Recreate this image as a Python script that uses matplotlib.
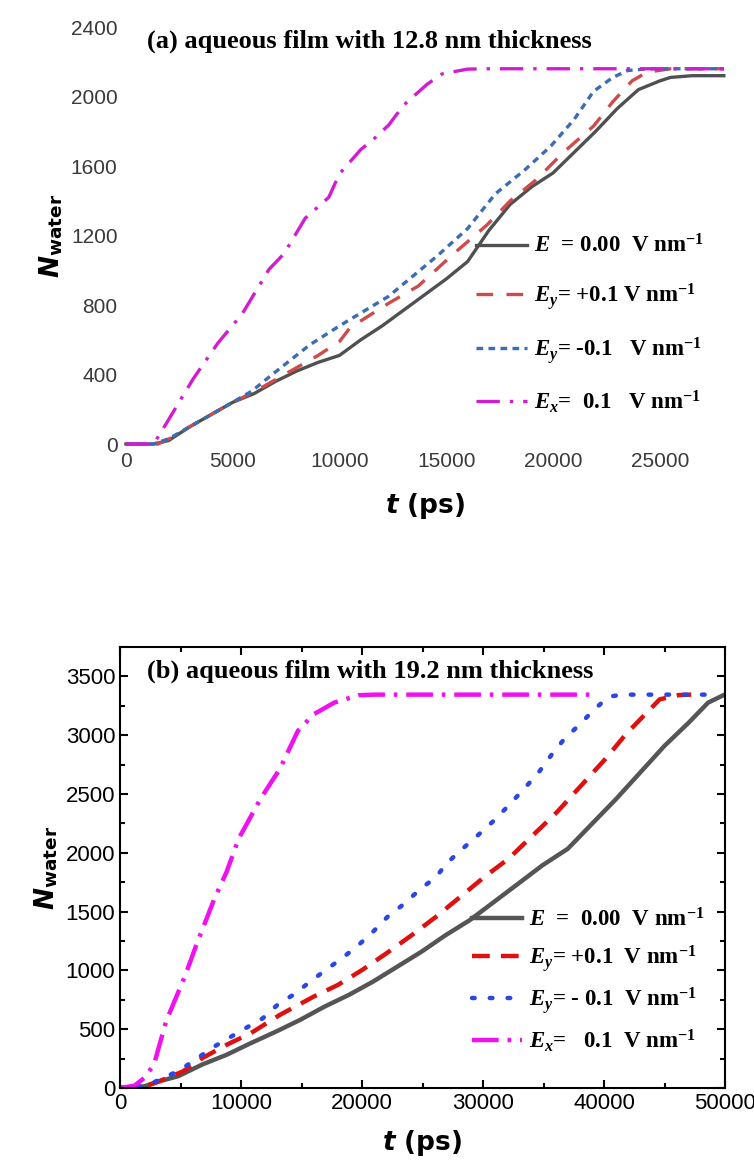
import matplotlib
matplotlib.use('Agg')
import matplotlib.pyplot as plt
import numpy as np

plt.rcParams['mathtext.fontset'] = 'custom'
plt.rcParams['mathtext.rm'] = 'Liberation Serif:bold'
plt.rcParams['mathtext.it'] = 'Liberation Serif:italic:bold'
plt.rcParams['mathtext.bf'] = 'Liberation Serif:bold'
plt.rcParams['mathtext.sf'] = 'DejaVu Sans:bold'
plt.rcParams['mathtext.bfit'] = 'DejaVu Sans:italic:bold'

TICKFONT = ['Liberation Sans Narrow', 'Liberation Sans', 'DejaVu Sans']
SERIF = ['Liberation Serif', 'DejaVu Serif']

# ---- panel (a): 12.8 nm film ----
a_t_E0 = [0, 1300, 2000, 3000, 4000, 5000, 6000, 7000, 8000, 9000, 10000, 11000, 12000,
          13000, 14000, 15000, 16000, 17000, 18000, 19000, 20000, 21000, 22000, 23000,
          24000, 25000, 25500, 26500, 28000]
a_N_E0 = [0, 0, 20, 100, 170, 240, 290, 360, 420, 470, 510, 600, 680,
          770, 860, 950, 1050, 1230, 1380, 1480, 1560, 1680, 1800, 1930,
          2040, 2090, 2110, 2120, 2120]
a_t_Eyp = [0, 1500, 2200, 3000, 4000, 5000, 6000, 7000, 8000, 9000, 10000, 10500, 12300,
           13700, 15300, 16900, 18000, 19200, 20500, 21900, 22800, 23700, 24400, 25500, 28000]
a_N_Eyp = [0, 0, 40, 100, 170, 240, 300, 370, 440, 510, 590, 670, 810,
           910, 1090, 1260, 1400, 1520, 1680, 1830, 1970, 2090, 2140, 2160, 2160]
a_t_Eym = [0, 1300, 2000, 3000, 4000, 5000, 5900, 6800, 8600, 10000, 12300, 14600, 16000,
           17300, 18700, 19900, 21000, 21900, 22800, 23500, 24500, 28000]
a_N_Eym = [0, 0, 30, 100, 170, 240, 305, 395, 570, 680, 850, 1085, 1240,
           1440, 1580, 1715, 1870, 2030, 2110, 2150, 2160, 2160]
a_t_Ex = [0, 1300, 1900, 3150, 4300, 5450, 6700, 7400, 8400, 9500, 10000, 11000, 11600,
          12300, 13000, 14100, 14800, 16000, 17000, 28000]
a_N_Ex = [0, 0, 120, 375, 580, 750, 1005, 1095, 1300, 1420, 1555, 1695, 1755,
          1835, 1950, 2070, 2130, 2158, 2160, 2160]

# ---- panel (b): 19.2 nm film ----
b_t_E0 = [0, 2000, 3200, 4800, 6800, 8800, 10800, 12900, 14900, 16900, 18900, 20900, 22900,
          24900, 26900, 28900, 30900, 32900, 34900, 37000, 39000, 41000, 43000, 45000,
          47000, 48600, 50000]
b_N_E0 = [0, 14, 56, 100, 200, 282, 381, 480, 580, 692, 791, 904, 1031,
          1158, 1299, 1427, 1582, 1737, 1893, 2034, 2246, 2458, 2684, 2910,
          3107, 3277, 3347]
b_t_Eyp = [0, 2000, 3200, 5200, 6800, 8800, 10800, 13200, 16000, 18000, 20000, 22000, 24100,
           26100, 28100, 30100, 32100, 34100, 36100, 38100, 40100, 41800, 43400, 44600,
           46200, 47200]
b_N_Eyp = [0, 10, 56, 141, 254, 367, 466, 621, 777, 876, 1003, 1144, 1299,
           1455, 1624, 1794, 1949, 2147, 2345, 2571, 2797, 3008, 3178, 3305,
           3342, 3345]
b_t_Eym = [0, 2000, 3600, 5000, 6400, 7800, 9200, 10600, 11800, 13000, 14500, 15700, 17000,
           18500, 19700, 20900, 22100, 23500, 24700, 26100, 27100, 28300, 29700, 30900,
           32100, 33500, 34700, 35700, 36700, 38000, 39200, 40400, 41500, 48800]
b_N_Eym = [0, 14, 85, 155, 254, 353, 438, 522, 593, 706, 805, 904, 1003,
           1116, 1215, 1328, 1455, 1568, 1681, 1794, 1921, 2034, 2161, 2274,
           2401, 2556, 2698, 2839, 2966, 3093, 3220, 3328, 3345, 3345]
b_t_Ex = [0, 1200, 2000, 2800, 3800, 5400, 6400, 7800, 8800, 9800, 11600, 13200, 14700,
          16000, 17700, 19700, 21000, 39000]
b_N_Ex = [0, 20, 85, 198, 565, 960, 1243, 1610, 1836, 2119, 2458, 2712, 3037,
          3178, 3277, 3340, 3345, 3345]

a_labels = [r'$E$  = 0.00  V nm$^{-1}$', r'$E_y$= +0.1 V nm$^{-1}$',
            r'$E_y$= -0.1   V nm$^{-1}$', r'$E_x$=  0.1   V nm$^{-1}$']
b_labels = [r'$E$  =  0.00  V nm$^{-1}$', r'$E_y$= +0.1  V nm$^{-1}$',
            r'$E_y$= - 0.1  V nm$^{-1}$', r'$E_x$=   0.1  V nm$^{-1}$']

LEGFONT = {'family': SERIF, 'weight': 'bold', 'size': 16.5}

fig = plt.figure(figsize=(7.54, 11.66), dpi=100)

# panel (a)
ax = fig.add_axes([0.167, 0.6192, 0.793, 0.3576])
ax.plot(a_t_E0, a_N_E0, color='#505050', lw=2.4, label=a_labels[0], clip_on=False)
ax.plot(a_t_Eyp, a_N_Eyp, color='#cf4a4a', lw=2.4, dashes=(5, 4), label=a_labels[1], clip_on=False)
ax.plot(a_t_Eym, a_N_Eym, color='#3c6cb4', lw=2.4, dashes=(2, 1.6), label=a_labels[2], clip_on=False)
ax.plot(a_t_Ex, a_N_Ex, color='#d21cd2', lw=2.4, dashes=(7, 3, 1, 3), label=a_labels[3], clip_on=False)
ax.set_xlim(0, 28000)
ax.set_ylim(0, 2400)
ax.set_xticks([0, 5000, 10000, 15000, 20000, 25000])
ax.set_yticks(np.arange(0, 2401, 400))
for s in ax.spines.values():
    s.set_visible(False)
ax.tick_params(length=0, labelsize=15, pad=6)
for lab in ax.get_xticklabels() + ax.get_yticklabels():
    lab.set_family(TICKFONT)
    lab.set_color('#3a3a3a')
ax.set_xlabel(r'$\mathbfit{t}$ (ps)', fontsize=19, fontweight='bold', family='DejaVu Sans', labelpad=14)
ax.set_ylabel(r'$\mathbfit{N}_{\mathsf{water}}$', fontsize=19)
ax.text(0.035, 0.965, '(a) aqueous film with 12.8 nm thickness', transform=ax.transAxes,
        family=SERIF, fontweight='bold', fontsize=19, va='center', ha='left')
ax.legend(loc='lower right', bbox_to_anchor=(1.0, 0.02), frameon=False, prop=LEGFONT,
          handlelength=2.2, labelspacing=1.0, handletextpad=0.3)

# panel (b)
bx = fig.add_axes([0.1592, 0.0669, 0.8024, 0.3782])
bx.plot(b_t_E0, b_N_E0, color='#555555', lw=3.2, label=b_labels[0])
bx.plot(b_t_Eyp, b_N_Eyp, color='#e01010', lw=3.2, dashes=(4, 2.5), label=b_labels[1])
bx.plot(b_t_Eym, b_N_Eym, color='#2a46e6', lw=3.2, dashes=(0.6, 3.4), dash_capstyle='round', label=b_labels[2])
bx.plot(b_t_Ex, b_N_Ex, color='#f010f0', lw=3.2, dashes=(6, 2, 0.8, 2), label=b_labels[3])
bx.set_xlim(0, 50000)
bx.set_ylim(0, 3750)
bx.set_xticks(np.arange(0, 50001, 10000))
bx.set_yticks(np.arange(0, 3501, 500))
bx.set_xticks(np.arange(5000, 50000, 10000), minor=True)
bx.set_yticks(np.arange(250, 3750, 500), minor=True)
for s in bx.spines.values():
    s.set_linewidth(1.5)
bx.tick_params(which='both', direction='in', top=True, right=True, labelsize=16, width=1.5)
bx.tick_params(which='major', length=6)
bx.tick_params(which='minor', length=3.5)
for lab in bx.get_xticklabels() + bx.get_yticklabels():
    lab.set_family(TICKFONT)
bx.set_xlabel(r'$\mathbfit{t}$ (ps)', fontsize=19, fontweight='bold', family='DejaVu Sans', labelpad=10)
bx.set_ylabel(r'$\mathbfit{N}_{\mathsf{water}}$', fontsize=19)
bx.text(0.045, 0.945, '(b) aqueous film with 19.2 nm thickness', transform=bx.transAxes,
        family=SERIF, fontweight='bold', fontsize=19, va='center', ha='left')
bx.legend(loc='lower right', bbox_to_anchor=(1.0, 0.03), frameon=False, prop=LEGFONT,
          handlelength=2.2, labelspacing=0.5, handletextpad=0.3)

fig.savefig('out.png', dpi=100)
